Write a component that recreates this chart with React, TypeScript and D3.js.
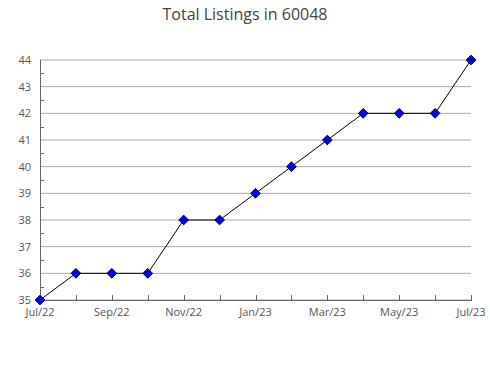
import React from "react";
import * as d3 from "d3";

const months = ["Jul/22","Aug/22","Sep/22","Oct/22","Nov/22","Dec/22","Jan/23","Feb/23","Mar/23","Apr/23","May/23","Jun/23","Jul/23"];
const listings = [35,36,36,36,38,38,39,40,41,42,42,42,44];
const yTicks = [35,36,37,38,39,40,41,42,43,44];
const yMinor = [35.5,36.5,37.5,38.5,39.5,40.5,41.5,42.5,43.5];
const title = "Total Listings in 60048";

const W = 490, H = 380;
const left = 40, right = 471, top = 60, bottom = 300;
const font = "'Open Sans', 'Noto Sans', sans-serif";

export default function App() {
  const x = d3.scalePoint<string>().domain(months).range([left, right]);
  const y = d3.scaleLinear().domain([35, 44]).range([bottom, top]);
  const line = d3.line<number>().x((_, i) => x(months[i])!).y(d => y(d));
  const diamond = d3.symbol().type(d3.symbolDiamond2).size(60)();
  return (
    <svg width={W} height={H} style={{ position: "absolute", left: 0, top: 0 }}>
      <rect width={W} height={H} fill="#fff" />
      <text x={245} y={20} textAnchor="middle" fontFamily={font} fontSize={16} fill="#444">{title}</text>
      {yTicks.map(t => (
        <g key={t}>
          <line x1={left} x2={right} y1={y(t)} y2={y(t)} stroke="#aaa" />
          <text x={31} y={y(t)} dy="0.35em" textAnchor="end" fontFamily={font} fontSize={11} fill="#555">{t}</text>
        </g>
      ))}
      {yMinor.map(t => (
        <line key={t} x1={left} x2={left + 4} y1={Math.round(y(t)) + 0.5} y2={Math.round(y(t)) + 0.5} stroke="#666" />
      ))}
      <line x1={left + 0.5} x2={left + 0.5} y1={top} y2={bottom} stroke="#666" />
      <line x1={left} x2={right + 1} y1={bottom + 0.5} y2={bottom + 0.5} stroke="#666" />
      {months.map((m, i) => (
        <g key={m}>
          <line x1={Math.round(x(m)!) + 0.5} x2={Math.round(x(m)!) + 0.5} y1={bottom} y2={bottom - 5} stroke="#666" />
          {i % 2 === 0 && (
            <text x={x(m)} y={bottom + 16} textAnchor="middle" fontFamily={font} fontSize={11} fill="#555">{m}</text>
          )}
        </g>
      ))}
      <path d={line(listings) || ""} fill="none" stroke="#000" strokeWidth={1} />
      {listings.map((v, i) => (
        <path key={i} d={diamond || ""} transform={`translate(${x(months[i])},${y(v)})`} fill="#0000ff" stroke="#000033" strokeWidth={1} />
      ))}
    </svg>
  );
}
